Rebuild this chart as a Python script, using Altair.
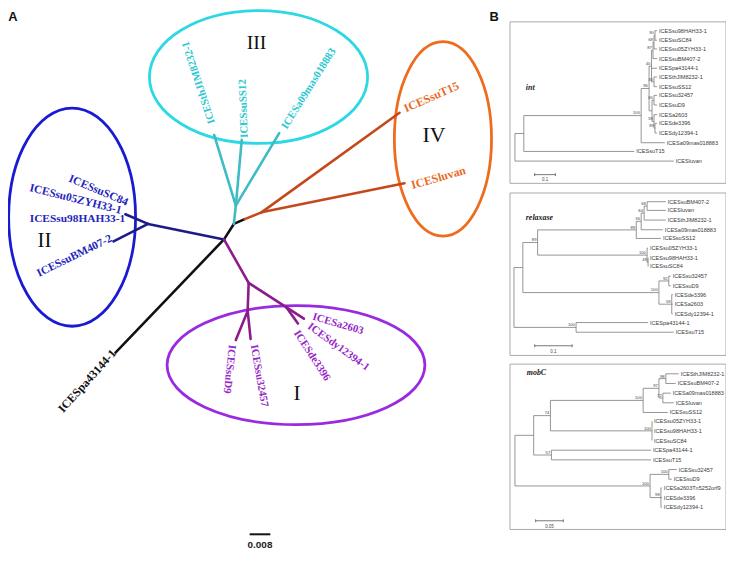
import altair as alt
import pandas as pd

# ---------------- canvas (layout units = pixels of the reference figure) -------------
W, H = 724, 545
XS = alt.Scale(domain=[3, 731])
YS = alt.Scale(domain=[1, 560], reverse=True)

# ---------------- Panel A : unrooted tree ----------------
node_name = ["C0", "C1", "C2", "Nbl", "Ncy", "Nor", "Npu", "Npa", "Npb",
             "pa43144", "su98", "suBM407", "thJIM", "suSS12", "Sa09mas",
             "suT15", "luvan", "suD9", "su32457", "de3396", "Sa2603"]
node_x = [222, 232, 243, 145, 234, 260, 247, 246, 285,
          112, 122, 110, 212, 240, 278, 400, 405, 234, 249, 297, 303]
node_y = [238, 222, 217, 222, 203, 210, 283, 312, 308,
          355, 212, 240, 130, 135, 128, 107, 180, 342, 341, 325, 320]

edge_from = ["C0", "C0", "C1", "C0", "Nbl", "Nbl", "C1", "Ncy", "Ncy", "Ncy",
             "C2", "Nor", "Nor", "C0", "Npu", "Npa", "Npa", "Npu", "Npb", "Npb"]
edge_to = ["pa43144", "C1", "C2", "Nbl", "su98", "suBM407", "Ncy", "thJIM", "suSS12", "Sa09mas",
           "Nor", "suT15", "luvan", "Npu", "Npa", "suD9", "su32457", "Npb", "de3396", "Sa2603"]
edge_clade = ["out", "out", "out", "II", "II", "II", "III", "III", "III", "III",
              "IV", "IV", "IV", "I", "I", "I", "I", "I", "I", "I"]

branch_color = {"out": "#111111", "II": "#1c1c88", "III": "#3fbcc2",
                "IV": "#c4481c", "I": "#8c1c8c"}
label_color = {"out": "#111111", "II": "#2424bc", "III": "#2cc8d0",
               "IV": "#ea6a26", "I": "#9626c8"}

lab_text = ["ICESsuSC84", "ICESsu05ZYH33-1", "ICESsu98HAH33-1", "ICESsuBM407-2",
            "ICESpa43144-1", "ICESthJIM8232-1", "ICESsuSS12", "ICESa09mas018883",
            "ICESsuT15", "ICESluvan", "ICESsuD9", "ICESsu32457", "ICESde3396",
            "ICESdy12394-1", "ICESa2603"]
lab_x = [65, 25, 25, 33, 56, 210, 243, 283, 405, 412, 230, 252, 295, 308, 312]
lab_y = [175, 185, 217, 274, 415, 118, 133, 123, 103, 182, 347, 347, 333, 327, 318]
lab_angle = [23, 14, 0, -26, -48, -108, -92, -58, -24, -16, 96, 80, 57, 36, 16]
lab_clade = ["II", "II", "II", "II", "out", "III", "III", "III", "IV", "IV",
             "I", "I", "I", "I", "I"]
lab_size = [11.5, 11.5, 11.5, 11.5, 12, 11, 11, 11, 12, 12, 11, 11, 11, 11, 11]

ell_clade = ["II", "III", "IV", "I"]
ell_cx = [68, 257, 444, 295]
ell_cy = [215, 70, 134, 368]
ell_rx = [64, 110, 49, 130]
ell_ry = [110, 67, 98, 60]
ell_color = ["#1a1ad2", "#2cd8e4", "#ee6c1e", "#9a2ae0"]

roman_text = ["II", "III", "IV", "I"]
roman_x = [40, 255, 435, 296]
roman_y = [240, 35, 130, 398]
roman_size = [21, 20, 22, 21]

# ---------------- Panel B : three dendrograms ----------------
int_leaves = ["ICESsu98HAH33-1", "ICESsuSC84", "ICESsu05ZYH33-1", "ICESsuBM407-2",
              "ICESpa43144-1", "ICESthJIM8232-1", "ICESsuSS12", "ICESsu32457", "ICESsuD9",
              "ICESa2603", "ICESde3396", "ICESdy12394-1", "ICESa09mas018883",
              "ICESsuT15", "ICESluvan"]
int_row_y = [22, 32, 41, 51, 61, 70, 80, 89, 99, 109, 118, 128, 138, 147, 157]
int_end = [661, 661, 661, 661, 661, 661, 661, 661, 661, 661, 661, 661, 669, 638, 678]
int_tree = (517, [(526, [(645, [(653, [(655.5, [(657, [(658, [(659, [0, 1], "90"), 2], "68"), 3], "87"),
                                                4, (658, [5, 6], "30")], "40"),
                                       (656, [(658, [7, 8], "65"),
                                              (658, [9, (659, [10, 11], "89")], "59")], "")], "96"),
                                12], "100"), 13], ""), 14], "")

relax_leaves = ["ICESsuBM407-2", "ICESluvan", "ICESthJIM8232-1", "ICESa09mas018883",
                "ICESsuSS12", "ICESsu05ZYH33-1", "ICESsu98HAH33-1", "ICESsuSC84",
                "ICESsu32457", "ICESsuD9", "ICESde3396", "ICESa2603", "ICESdy12394-1",
                "ICESpa43144-1", "ICESsuT15"]
relax_row_y = [199, 208, 218, 228, 237, 247, 257, 266, 276, 286, 295, 305, 315, 324, 334]
relax_end = [670, 670, 670, 667, 665, 652, 652, 652, 675, 675, 677, 677, 677, 652, 678]
relax_tree = (516, [(525, [(540, [(640, [(645, [(648, [(651, [0, 1], "68"), 2], "84"), 3], "36"), 4], "89"),
                                  (651, [5, (652, [6, 7], "49")], "100")], "89"),
                           (663, [(673, [8, 9], "92"), (676, [10, 11, 12], "59")], "100")], ""),
                    (579, [13, 14], "100")], "")

mob_leaves = ["ICESthJIM8232-1", "ICESsuBM407-2", "ICESa09mas018883", "ICESluvan",
              "ICESsuSS12", "ICESsu05ZYH33-1", "ICESsu98HAH33-1", "ICESsuSC84",
              "ICESpa43144-1", "ICESsuT15", "ICESsu32457", "ICESsuD9",
              "ICESa2603Tn5252orf9", "ICESde3396", "ICESdy12394-1"]
mob_row_y = [377, 387, 397, 407, 417, 426, 436, 446, 456, 466, 476, 486, 495, 505, 515]
mob_end = [683, 680, 675, 678, 672, 656, 656, 656, 655, 655, 681, 676, 666, 666, 666]
mob_tree = (517, [(536, [(553, [(647, [(663, [(670, [0, 1], "98"), (667, [2, 3], "72")], "97"), 4], "100"),
                                (656, [5, 6, 7], "100")], "74"),
                         (554, [8, 9], "57")], ""),
                  (654, [(673, [10, 11], "100"), (665, [12, 13, 14], "98")], "100")], "")

box_title = ["int", "relaxase", "mobC"]
box_title_x = [528, 528, 529]
box_title_y = [81, 216, 376]
box_top = [13, 190, 367]
box_bottom = [180, 358, 538]
box_left = [512, 512, 512]
box_right = [731, 731, 731]

sb_label = ["0.1", "0.1", "0.05"]
sb_x1 = [537, 537, 538]
sb_x2 = [558, 575, 566]
sb_y = [171, 348, 529]

# scale bar of panel A
sbA_label = "0.008"
sbA_x1, sbA_x2, sbA_y = 248, 269, 543

panel_label = ["A", "B"]
panel_x = [8, 496]
panel_y = [8, 8]


# ---------------- build tables ----------------
def xy():
    return dict(x=alt.X("x:Q", scale=XS, axis=None), y=alt.Y("y:Q", scale=YS, axis=None))


pos = {n: (x, y) for n, x, y in zip(node_name, node_x, node_y)}
edges = pd.DataFrame({
    "x": [pos[a][0] for a in edge_from], "y": [pos[a][1] for a in edge_from],
    "x2": [pos[b][0] for b in edge_to], "y2": [pos[b][1] for b in edge_to],
    "col": [branch_color[c] for c in edge_clade],
})


def tree_layout(tree, leaves, rows, ends):
    segs, boots, labs = [], [], []

    def rec(node):
        if isinstance(node, int):
            labs.append((leaves[node], ends[node], rows[node]))
            return ends[node], rows[node]
        x, children, bs = node
        p = [rec(c) for c in children]
        cy = [q[1] for q in p]
        for qx, qy in p:
            segs.append((x, qy, qx, qy))
        segs.append((x, min(cy), x, max(cy)))
        y = (cy[0] + cy[-1]) / 2
        if bs:
            boots.append((bs, x, y))
        return x, y

    rec(tree)
    return segs, boots, labs


segB, bootB, labB = [], [], []
for t, lv, ry, en in [(int_tree, int_leaves, int_row_y, int_end),
                      (relax_tree, relax_leaves, relax_row_y, relax_end),
                      (mob_tree, mob_leaves, mob_row_y, mob_end)]:
    s, b, l = tree_layout(t, lv, ry, en)
    segB += s
    bootB += b
    labB += l

segB_df = pd.DataFrame(segB, columns=["x", "y", "x2", "y2"])
bootB_df = pd.DataFrame([(b, x - 1.2, y - 2.2) for b, x, y in bootB], columns=["t", "x", "y"])
labB_df = pd.DataFrame([(n, x + 2, y) for n, x, y in labB], columns=["t", "x", "y"])

# ---------------- layers ----------------
layers = []

# panel B boxes
boxes = pd.DataFrame({"x": box_left, "x2": box_right, "y": box_top, "y2": box_bottom})
layers.append(alt.Chart(boxes).mark_rect(fillOpacity=0, stroke="#a9a9a9", strokeWidth=1).encode(
    **xy(), x2="x2:Q", y2="y2:Q"))

# ellipses
k = 0.5523
for c, cx, cy, rx, ry, col in zip(ell_clade, ell_cx, ell_cy, ell_rx, ell_ry, ell_color):
    if rx >= ry:
        a, b, size = 1.0, ry / rx, (2 * rx) ** 2
    else:
        a, b, size = rx / ry, 1.0, (2 * ry) ** 2
    f = lambda v: f"{v:.4f}"
    path = (f"M{f(-a)},0C{f(-a)},{f(-k*b)} {f(-k*a)},{f(-b)} 0,{f(-b)}"
            f"C{f(k*a)},{f(-b)} {f(a)},{f(-k*b)} {f(a)},0"
            f"C{f(a)},{f(k*b)} {f(k*a)},{f(b)} 0,{f(b)}"
            f"C{f(-k*a)},{f(b)} {f(-a)},{f(k*b)} {f(-a)},0Z")
    d = pd.DataFrame({"x": [cx], "y": [cy], "clade": [c]})
    layers.append(alt.Chart(d).mark_point(shape=path, size=size, filled=False, stroke=col,
                                          strokeWidth=2.8, opacity=1).encode(**xy()))

# tree branches A
layers.append(alt.Chart(edges).mark_rule(strokeWidth=2.6, strokeCap="round").encode(
    **xy(), x2="x2:Q", y2="y2:Q", color=alt.Color("col:N", scale=None)))

# labels A
labA = pd.DataFrame({"t": lab_text, "x": lab_x, "y": lab_y,
                     "ang": [a % 360 for a in lab_angle],
                     "col": [label_color[c] for c in lab_clade], "fs": lab_size})
layers.append(alt.Chart(labA).mark_text(font="Liberation Serif", fontWeight="bold",
                                        align="left", baseline="middle").encode(
    **xy(), text="t:N", color=alt.Color("col:N", scale=None),
    size=alt.Size("fs:Q", scale=None), angle=alt.Angle("ang:Q", scale=None)))

# roman numerals
rom = pd.DataFrame({"t": roman_text, "x": roman_x, "y": roman_y, "fs": roman_size})
layers.append(alt.Chart(rom).mark_text(font="Liberation Serif", color="#111111",
                                       align="center", baseline="middle").encode(
    **xy(), text="t:N", size=alt.Size("fs:Q", scale=None)))

# scale bar A
sbA = pd.DataFrame({"x": [sbA_x1], "x2": [sbA_x2], "y": [sbA_y], "t": [sbA_label]})
layers.append(alt.Chart(sbA).mark_rule(strokeWidth=2, color="#111111").encode(
    **xy(), x2="x2:Q"))
sbA_t = pd.DataFrame({"x": [(sbA_x1 + sbA_x2) / 2], "y": [sbA_y + 11], "t": [sbA_label]})
layers.append(alt.Chart(sbA_t).mark_text(font="Liberation Sans", fontSize=10, fontWeight="bold",
                                         color="#222222", baseline="middle").encode(**xy(), text="t:N"))

# panel labels
pl = pd.DataFrame({"t": panel_label, "x": panel_x, "y": panel_y})
layers.append(alt.Chart(pl).mark_text(font="Liberation Sans", fontSize=13, fontWeight="bold",
                                      color="#111111", baseline="middle").encode(**xy(), text="t:N"))

# panel B trees
layers.append(alt.Chart(segB_df).mark_rule(strokeWidth=0.8, color="#7a7a7a").encode(
    **xy(), x2="x2:Q", y2="y2:Q"))
layers.append(alt.Chart(labB_df).mark_text(font="Liberation Sans", fontSize=5.6, color="#3a3a3a",
                                           align="left", baseline="middle").encode(**xy(), text="t:N"))
layers.append(alt.Chart(bootB_df).mark_text(font="Liberation Sans", fontSize=4.2, color="#444444",
                                            align="right", baseline="middle").encode(**xy(), text="t:N"))

titles = pd.DataFrame({"t": box_title, "x": box_title_x, "y": box_title_y})
layers.append(alt.Chart(titles).mark_text(font="Liberation Serif", fontSize=8, fontWeight="bold",
                                          fontStyle="italic", color="#222222", align="left",
                                          baseline="middle").encode(**xy(), text="t:N"))

sbB = pd.DataFrame({"x": sb_x1, "x2": sb_x2, "y": sb_y})
layers.append(alt.Chart(sbB).mark_rule(strokeWidth=0.8, color="#555555").encode(**xy(), x2="x2:Q"))
sb_ticks = pd.DataFrame({"x": sb_x1 + sb_x2, "y": [v - 1.5 for v in sb_y] * 2,
                         "y2": [v + 1.5 for v in sb_y] * 2})
layers.append(alt.Chart(sb_ticks).mark_rule(strokeWidth=0.8, color="#555555").encode(**xy(), y2="y2:Q"))
sbB_t = pd.DataFrame({"t": sb_label, "x": [(a + b) / 2 for a, b in zip(sb_x1, sb_x2)],
                      "y": [v + 6 for v in sb_y]})
layers.append(alt.Chart(sbB_t).mark_text(font="Liberation Sans", fontSize=4.5, color="#444444",
                                         baseline="middle").encode(**xy(), text="t:N"))

chart = alt.layer(*layers).properties(
    width=W, height=H, padding=0, background="white",
    autosize=alt.AutoSizeParams(type="none"),
).configure_view(stroke=None)

chart.save("out.html", embed_options={"renderer": "svg", "actions": False})
